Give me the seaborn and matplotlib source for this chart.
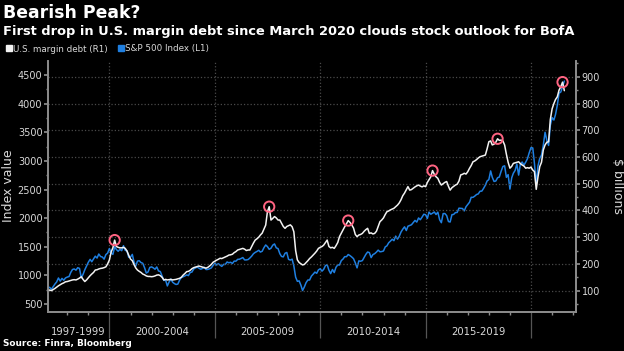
import pandas as pd
import matplotlib
matplotlib.use('Agg')
import matplotlib.pyplot as plt
import matplotlib.dates as mdates
import matplotlib.transforms as mtransforms
from matplotlib.lines import Line2D
import seaborn as sns

# S&P 500 month-end close (left axis), Jan 1997 - Jul 2021
spx_1997_2001 = [786, 791, 757, 801, 848, 885, 954, 899, 947, 915, 955, 970,
                 980, 1049, 1102, 1112, 1091, 1134, 1121, 957, 1017, 1099, 1164, 1229,
                 1280, 1238, 1286, 1335, 1302, 1373, 1329, 1320, 1283, 1363, 1389, 1469,
                 1394, 1366, 1499, 1452, 1421, 1455, 1431, 1518, 1437, 1429, 1315, 1320,
                 1366, 1240, 1160, 1249, 1256, 1224, 1211, 1134, 1041, 1060, 1139, 1148]
spx_2002_2006 = [1130, 1107, 1147, 1077, 1067, 990, 912, 916, 815, 886, 936, 880,
                 856, 841, 848, 917, 964, 975, 990, 1008, 996, 1051, 1058, 1112,
                 1131, 1145, 1126, 1107, 1121, 1141, 1102, 1104, 1115, 1130, 1174, 1212,
                 1181, 1204, 1181, 1157, 1192, 1191, 1234, 1220, 1229, 1207, 1249, 1248,
                 1280, 1281, 1295, 1311, 1270, 1270, 1277, 1304, 1336, 1378, 1401, 1418]
spx_2007_2011 = [1438, 1407, 1421, 1482, 1531, 1503, 1455, 1474, 1527, 1549, 1481, 1468,
                 1379, 1331, 1323, 1386, 1400, 1280, 1267, 1283, 1165, 969, 896, 903,
                 826, 735, 798, 873, 919, 919, 987, 1021, 1057, 1036, 1096, 1115,
                 1074, 1104, 1169, 1187, 1089, 1031, 1102, 1049, 1141, 1183, 1181, 1258,
                 1286, 1327, 1326, 1364, 1345, 1321, 1292, 1219, 1131, 1253, 1247, 1258]
spx_2012_2016 = [1312, 1366, 1408, 1398, 1310, 1362, 1379, 1407, 1441, 1412, 1416, 1426,
                 1498, 1515, 1569, 1598, 1631, 1606, 1686, 1633, 1682, 1757, 1806, 1848,
                 1783, 1859, 1872, 1884, 1924, 1960, 1931, 2003, 1972, 2018, 2068, 2059,
                 1995, 2105, 2068, 2086, 2107, 2063, 2104, 1972, 1920, 2079, 2080, 2044,
                 1940, 1932, 2060, 2065, 2097, 2099, 2174, 2171, 2168, 2126, 2199, 2239]
spx_2017_2021 = [2279, 2364, 2363, 2384, 2412, 2423, 2470, 2472, 2519, 2575, 2648, 2674,
                 2824, 2714, 2641, 2648, 2705, 2718, 2816, 2902, 2914, 2712, 2760, 2507,
                 2704, 2784, 2834, 2946, 2752, 2942, 2980, 2926, 2977, 3038, 3141, 3231,
                 3226, 2954, 2585, 2912, 3044, 3100, 3271, 3500, 3363, 3270, 3622, 3756,
                 3714, 3811, 3973, 4181, 4204, 4298, 4395]

# U.S. margin debt, $ billions (right axis), same months
margin_1997_2001 = [102, 102, 100, 104, 108, 113, 118, 122, 126, 129, 133, 134,
                    136, 138, 140, 141, 140, 143, 147, 152, 142, 134, 140, 148,
                    156, 162, 168, 177, 178, 181, 183, 184, 186, 189, 200, 215,
                    245, 260, 289, 265, 262, 260, 260, 262, 258, 248, 232, 218,
                    212, 198, 185, 177, 172, 168, 162, 159, 155, 153, 153, 152]
margin_2002_2006 = [153, 155, 158, 159, 156, 150, 140, 142, 140, 141, 142, 140,
                    141, 142, 144, 146, 150, 158, 164, 171, 172, 176, 182, 186,
                    188, 190, 192, 190, 188, 186, 184, 187, 192, 198, 206, 210,
                    214, 217, 221, 220, 223, 226, 229, 233, 234, 236, 242, 246,
                    252, 254, 256, 258, 255, 250, 252, 252, 265, 278, 289, 294]
margin_2007_2011 = [300, 308, 315, 330, 345, 395, 414, 364, 370, 377, 372, 364,
                    364, 352, 340, 333, 340, 343, 346, 339, 320, 250, 215, 205,
                    200, 196, 198, 205, 212, 220, 226, 233, 240, 248, 258, 262,
                    265, 270, 280, 289, 265, 260, 262, 258, 268, 280, 302, 315,
                    328, 339, 350, 362, 355, 346, 334, 310, 302, 308, 310, 314]
margin_2012_2016 = [322, 328, 333, 314, 316, 312, 314, 322, 340, 358, 364, 372,
                    385, 395, 398, 402, 405, 408, 414, 420, 428, 440, 455, 465,
                    478, 489, 476, 478, 483, 488, 492, 495, 491, 488, 492, 489,
                    505, 515, 526, 549, 535, 526, 520, 505, 495, 500, 505, 508,
                    490, 476, 485, 490, 495, 498, 510, 533, 535, 539, 536, 545]
margin_2017_2021 = [558, 568, 582, 585, 590, 596, 601, 603, 605, 607, 630, 657,
                    660, 645, 648, 655, 668, 662, 663, 660, 645, 610, 580, 558,
                    565, 576, 578, 580, 582, 575, 570, 566, 558, 560, 558, 562,
                    551, 545, 479, 525, 564, 580, 626, 645, 655, 657, 740, 780,
                    800, 815, 825, 850, 863, 880, 848]

peak_months = ['2000-03', '2007-07', '2011-04', '2015-04', '2018-05', '2021-06']
period_labels = ['1997-1999', '2000-2004', '2005-2009', '2010-2014', '2015-2019']
period_mids = ['1998-07-01', '2002-07-01', '2007-07-01', '2012-07-01', '2017-07-01']
divider_years = [2000, 2005, 2010, 2015, 2020]

BLUE = '#1f7fe0'
WHITE = '#f2f2f2'
PINK = '#ff6482'
GRID = '#4a4a4a'
TXT = '#d9d9d9'

spx = spx_1997_2001 + spx_2002_2006 + spx_2007_2011 + spx_2012_2016 + spx_2017_2021
margin = margin_1997_2001 + margin_2002_2006 + margin_2007_2011 + margin_2012_2016 + margin_2017_2021
df = pd.DataFrame({'date': pd.date_range('1997-01-31', periods=len(spx), freq='ME'),
                   'spx': spx, 'margin': margin})
peaks = df[df['date'].dt.strftime('%Y-%m').isin(peak_months)]

sns.set_theme(style='ticks', rc={'figure.facecolor': 'black', 'axes.facecolor': 'black',
                                 'axes.edgecolor': '#8c8c8c', 'xtick.color': '#8c8c8c',
                                 'ytick.color': '#8c8c8c', 'text.color': TXT})
plt.rcParams['font.family'] = ['DejaVu Sans']

fig = plt.figure(figsize=(6.24, 3.51), dpi=100)
ax = fig.add_axes([48 / 624, 39 / 351, 528 / 624, 251 / 351])
ax2 = ax.twinx()

sns.lineplot(data=df, x='date', y='spx', ax=ax, color=BLUE, lw=1.1)
sns.lineplot(data=df, x='date', y='margin', ax=ax2, color=WHITE, lw=1.1)
ax2.scatter(peaks['date'], peaks['margin'], s=55, facecolors='none',
            edgecolors=PINK, linewidths=1.4, zorder=5)

ax.set_xlim(pd.Timestamp('1997-01-31'), pd.Timestamp('2022-02-18'))
ax.set_ylim(360, 4745)
ax2.set_ylim(20, 959)
ax.set_yticks(range(500, 4501, 500))
ax.set_yticks(range(750, 4501, 500), minor=True)
ax2.set_yticks(range(100, 901, 100))
ax2.set_yticks(range(50, 951, 100), minor=True)

ax.set_xticks([pd.Timestamp(f'{y}-01-01') for y in divider_years])
ax.set_xticks([pd.Timestamp(f'{y}-01-01') for y in range(1998, 2023)], minor=True)
ax.xaxis.set_major_formatter(mdates.DateFormatter(''))
ax.tick_params(axis='x', which='major', length=19, width=0.9, color='#555555')
ax.tick_params(axis='x', which='minor', length=2, color='#8c8c8c')
ax.tick_params(axis='y', which='major', length=3, labelsize=7, labelcolor=TXT, pad=1)
ax.tick_params(axis='y', which='minor', length=1.5)
ax2.tick_params(axis='y', which='major', length=3, labelsize=7, labelcolor=TXT, pad=1)
ax2.tick_params(axis='y', which='minor', length=1.5)

ax.grid(axis='x', which='major', ls=':', color=GRID, lw=0.9)
ax.grid(axis='y', visible=False)
ax2.grid(axis='y', which='major', ls=':', color=GRID, lw=0.9)
for a in (ax, ax2):
    a.spines['top'].set_visible(False)
    a.set_xlabel('')
    a.set_ylabel('')

trans = mtransforms.blended_transform_factory(ax.transData, ax.transAxes)
for lab, mid in zip(period_labels, period_mids):
    ax.text(pd.Timestamp(mid), -0.078, lab, transform=trans, ha='center', va='center',
            fontsize=7.2, color=TXT)

fig.text(3 / 624, 1 - 13 / 351, 'Bearish Peak?', fontsize=12.4, fontweight='bold',
         color='white', va='center', ha='left')
fig.text(3 / 624, 1 - 31 / 351,
         'First drop in U.S. margin debt since March 2020 clouds stock outlook for BofA',
         fontsize=9.4, fontweight='bold', color='white', va='center', ha='left')
fig.text(3 / 624, 1 - 344 / 351, 'Source: Finra, Bloomberg', fontsize=6.4, fontweight='bold',
         color='white', va='center', ha='left')
fig.text(9 / 624, 1 - 186 / 351, 'Index value', rotation=90, fontsize=9, color=TXT,
         va='center', ha='center')
fig.text(617 / 624, 1 - 186 / 351, '$ billions', rotation=270, fontsize=9, color=TXT,
         va='center', ha='center')

handles = [Line2D([], [], marker='s', ls='None', color=WHITE, markersize=4.5),
           Line2D([], [], marker='s', ls='None', color=BLUE, markersize=4.5)]
fig.legend(handles, ['U.S. margin debt (R1)', 'S&P 500 Index (L1)'], ncol=2,
           loc='center left', bbox_to_anchor=(0.0, 1 - 49 / 351), frameon=False,
           fontsize=6.3, handlelength=0.6, handletextpad=0.2, columnspacing=1.2,
           labelcolor=TXT, borderpad=0.2)

fig.savefig('out.png', dpi=100, facecolor='black')
